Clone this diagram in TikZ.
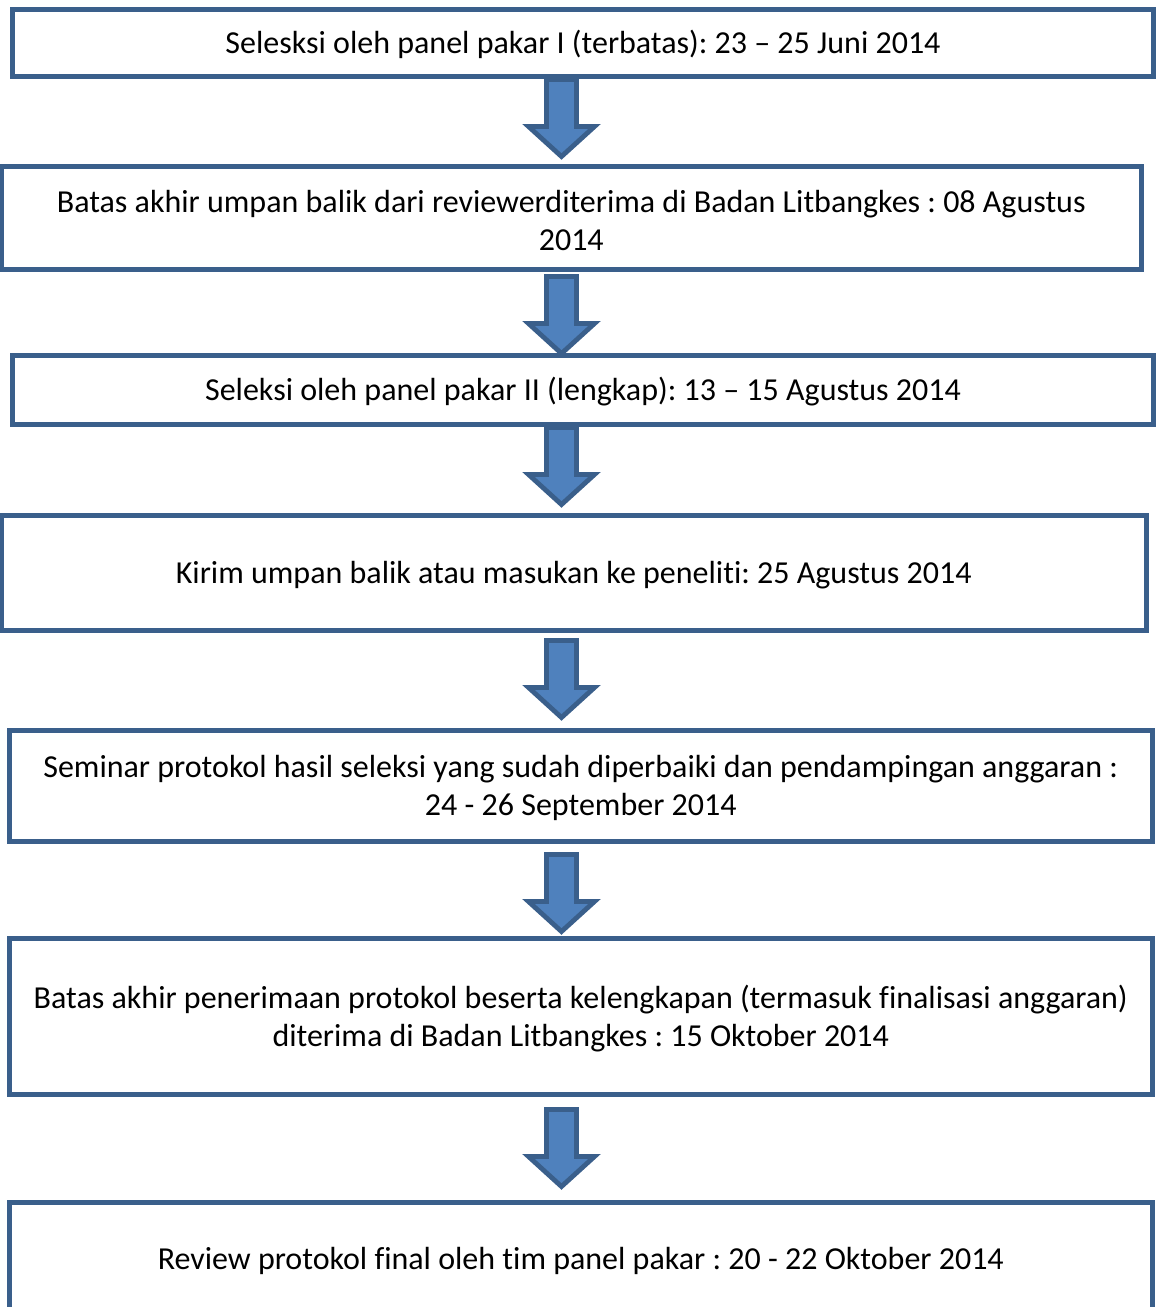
\documentclass[tikz,border=0pt]{standalone}
\usepackage{fontspec}
\setmainfont{Carlito}[Ligatures=NoCommon]
\frenchspacing
\definecolor{bordc}{HTML}{3A5F8B}
\definecolor{fillc}{HTML}{4F81BD}
\begin{document}
\begin{tikzpicture}[x=0.75pt,y=-0.75pt,
  box/.style 2 args={draw=bordc, line width=3.75pt, fill=white, inner sep=0pt,
    align=center, font=\fontsize{24pt}{28.5pt}\selectfont,
    minimum width={#1*0.75pt}, minimum height={#2*0.75pt}},
  txt/.style={font=\fontsize{24pt}{28.5pt}\selectfont, align=center, inner sep=0pt},
  flowarr/.style={draw=bordc, fill=fillc, line width=3.6pt, line join=miter},
  downarr/.pic={\path[flowarr] (-15,0) -- (15,0) -- (15,47) -- (33,47) -- (0,77) -- (-33,47) -- (-15,47) -- cycle;}]
\useasboundingbox (0,0) rectangle (1156,1307);
\clip (0,0) rectangle (1156,1307);
\node[box={1141}{67.5}] (b1) at (583,42.75) {};
\node[box={1140.5}{103}] (b2) at (571.25,218) {};
\node[box={1141}{69}] (b3) at (583,390) {};
\node[box={1145.5}{115}] (b4) at (573.75,573) {};
\node[box={1142.5}{111}] (b5) at (580.75,786) {};
\node[box={1142.5}{156}] (b6) at (580.75,1016.5) {};
\node[box={1142.5}{113}] (b7) at (580.75,1259) {};
\node[txt] (t1) at ([yshift=-1.5pt]b1.center) {Selesksi oleh panel pakar I (terbatas): 23 -- 25 Juni 2014};
\node[txt] (t2) at ([yshift=-1.5pt]b2.center) {Batas akhir umpan balik dari reviewerditerima di Badan Litbangkes : 08 Agustus\\2014};
\node[txt] (t3) at ([yshift=-1.5pt]b3.center) {Seleksi oleh panel pakar II (lengkap): 13 -- 15 Agustus 2014};
\node[txt] (t4) at ([yshift=-1.5pt]b4.center) {Kirim umpan balik atau masukan ke peneliti: 25 Agustus 2014};
\node[txt] (t5) at ([yshift=-1.5pt]b5.center) {Seminar protokol hasil seleksi yang sudah diperbaiki dan pendampingan anggaran :\\24 - 26 September 2014};
\node[txt] (t6) at ([yshift=-1.5pt]b6.center) {Batas akhir penerimaan protokol beserta kelengkapan (termasuk finalisasi anggaran)\\diterima di Badan Litbangkes : 15 Oktober 2014};
\node[txt] (t7) at ([yshift=-1.5pt]b7.center) {Review protokol final oleh tim panel pakar : 20 - 22 Oktober 2014};
\coordinate (a1) at (561.5,79.5);
\coordinate (a2) at (561.5,276.5);
\coordinate (a3) at (561.5,427.5);
\coordinate (a4) at (561.5,640.5);
\coordinate (a5) at (561.5,854.5);
\coordinate (a6) at (561.5,1109.5);
\foreach \a in {a1,a2,a3,a4,a5,a6} {\pic at (\a) {downarr};}
\end{tikzpicture}
\end{document}
